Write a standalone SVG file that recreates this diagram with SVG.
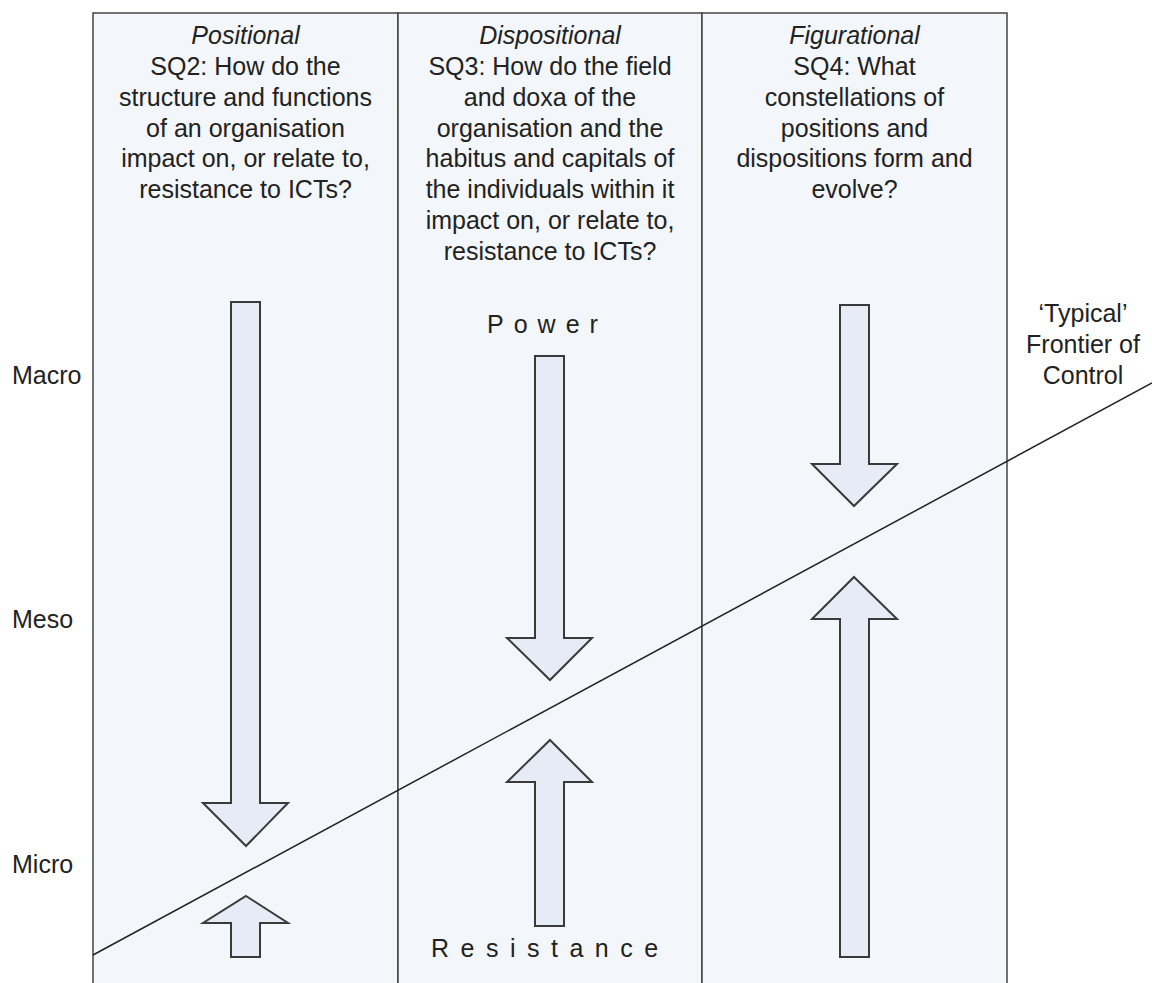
<svg xmlns="http://www.w3.org/2000/svg" width="1152" height="983" viewBox="0 0 1152 983">
<style>
.col{fill:#f3f6fa;stroke:#444;stroke-width:1.5}
.arr{fill:#e6ebf5;stroke:#3a3a3a;stroke-width:2;stroke-linejoin:miter}
text{font-family:"Liberation Sans",Arial,sans-serif;font-size:25px;fill:#222}
.c{text-anchor:middle}
.i{font-style:italic}
.sp{letter-spacing:10px}
.sp2{letter-spacing:11.5px}
</style>
<rect width="1152" height="983" fill="#ffffff"/>
<g id="col-positional">
<rect class="col" x="93" y="13" width="305" height="985"/>
<text class="c i" x="245.5" y="44">Positional</text>
<text class="c" x="245.5" y="75">SQ2: How do the</text>
<text class="c" x="245.5" y="106">structure and functions</text>
<text class="c" x="245.5" y="137">of an organisation</text>
<text class="c" x="245.5" y="167">impact on, or relate to,</text>
<text class="c" x="245.5" y="198">resistance to ICTs?</text>
</g>
<g id="col-dispositional">
<rect class="col" x="398" y="13" width="304" height="985"/>
<text class="c i" x="550" y="44">Dispositional</text>
<text class="c" x="550" y="75">SQ3: How do the field</text>
<text class="c" x="550" y="106">and doxa of the</text>
<text class="c" x="550" y="137">organisation and the</text>
<text class="c" x="550" y="167">habitus and capitals of</text>
<text class="c" x="550" y="198">the individuals within it</text>
<text class="c" x="550" y="229">impact on, or relate to,</text>
<text class="c" x="550" y="260">resistance to ICTs?</text>
</g>
<g id="col-figurational">
<rect class="col" x="702" y="13" width="305" height="985"/>
<text class="c i" x="854.5" y="44">Figurational</text>
<text class="c" x="854.5" y="75">SQ4: What</text>
<text class="c" x="854.5" y="106">constellations of</text>
<text class="c" x="854.5" y="137">positions and</text>
<text class="c" x="854.5" y="167">dispositions form and</text>
<text class="c" x="854.5" y="198">evolve?</text>
</g>
<g id="arrows">
<polygon id="a1-down" class="arr" points="231,302 260,302 260,803 288,803 246,846 203,803 231,803"/>
<polygon id="a1-up" class="arr" points="246,896 288,923 260,923 260,957 231,957 231,923 203,923"/>
<polygon id="a2-down" class="arr" points="535,356 564,356 564,638 592,638 550,680 507,638 535,638"/>
<polygon id="a2-up" class="arr" points="550,740 592,782 564,782 564,926 535,926 535,782 507,782"/>
<polygon id="a3-down" class="arr" points="840,305 869,305 869,464 897,464 854,506 812,464 840,464"/>
<polygon id="a3-up" class="arr" points="854,577 897,619 869,619 869,957 840,957 840,619 812,619"/>
</g>
<g id="power-label"><text class="sp" x="487" y="333">Power</text></g>
<g id="resistance-label"><text class="sp2" x="431" y="957">Resistance</text></g>
<g id="connectors">
<line id="frontier" x1="93" y1="955" x2="1152" y2="383" stroke="#222" stroke-width="1.5"/>
</g>
<g id="levels">
<text x="12" y="384">Macro</text>
<text x="12" y="628">Meso</text>
<text x="12" y="873">Micro</text>
</g>
<g id="frontier-label">
<text class="c" x="1083" y="322">‘Typical’</text>
<text class="c" x="1083" y="353">Frontier of</text>
<text class="c" x="1083" y="384">Control</text>
</g>
</svg>
